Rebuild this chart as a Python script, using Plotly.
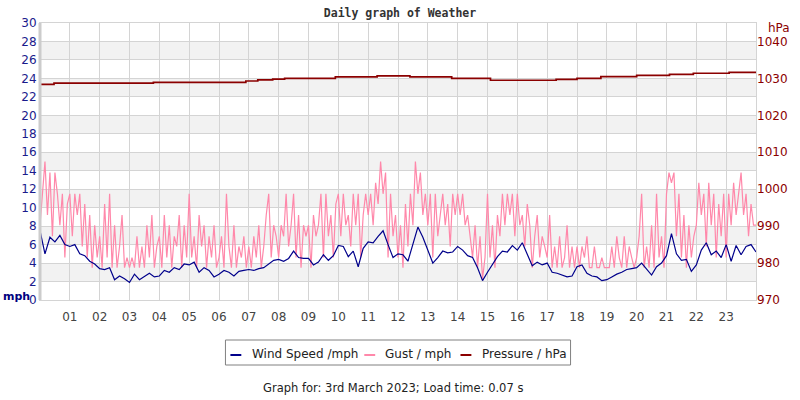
import plotly.graph_objects as go

# ---------------- data ----------------
hours = list(range(1, 24))
hour_labels = ["%02d" % h for h in hours]

# wind speed (mph), 10-minute samples from 00:00 to 24:00
wind_speed = [
    7.5, 5.0, 6.8, 6.3, 7.0, 6.0,
    5.8, 6.0, 5.0, 4.8, 4.2, 3.9,
    3.4, 3.3, 3.5, 2.2, 2.6, 2.3,
    1.9, 2.8, 2.2, 2.6, 2.9, 2.5,
    2.6, 3.2, 3.0, 3.5, 3.3, 3.9,
    3.8, 4.1, 3.0, 3.5, 3.2, 2.5,
    2.8, 3.2, 3.0, 2.6, 3.1, 3.2,
    3.3, 3.2, 3.4, 3.5, 3.9, 4.3,
    4.4, 4.2, 4.5, 5.3, 4.6, 4.5,
    4.5, 3.8, 4.1, 4.9, 4.3, 4.8,
    5.9, 5.8, 4.7, 5.3, 3.6, 5.6,
    6.3, 6.2, 6.9, 7.5, 6.0, 4.6,
    5.0, 4.9, 4.2, 6.2, 7.9, 6.8,
    5.5, 4.0, 4.6, 5.3, 5.1, 5.2,
    5.8, 5.4, 4.8, 4.6, 3.5, 2.1,
    3.0, 3.8, 4.7, 5.3, 5.2, 5.9,
    5.4, 6.2, 4.9, 3.7, 4.1, 3.8,
    4.0, 3.0, 2.9, 2.7, 2.5, 2.6,
    3.6, 3.8, 2.9, 2.6, 2.5, 2.1,
    2.2, 2.5, 2.8, 3.0, 3.3, 3.4,
    3.5, 4.0, 3.4, 2.7, 3.6, 4.0,
    4.8, 7.2, 5.0, 4.3, 4.4, 3.1,
    3.8, 5.4, 6.2, 4.9, 5.3, 4.6,
    6.0, 4.2, 5.9, 4.9, 5.8, 6.0,
    5.2,
]

# gust (mph), 5-minute samples from 00:00 to 24:00
gust = [
    8.1, 11.5, 15.0, 9.2, 13.8, 6.9, 13.8, 11.5, 8.1, 11.5, 4.6, 10.4,
    11.5, 6.9, 11.5, 9.2, 11.5, 5.8, 10.4, 4.6, 9.2, 3.5, 8.1, 4.6,
    6.9, 3.5, 10.4, 4.6, 11.5, 3.5, 8.1, 3.5, 5.8, 9.2, 3.5, 4.6,
    3.5, 4.6, 3.5, 6.9, 3.5, 5.8, 3.5, 8.1, 4.6, 9.2, 3.5, 5.8,
    6.9, 3.5, 9.2, 4.6, 8.1, 3.5, 6.9, 5.8, 9.2, 3.5, 8.1, 4.6,
    11.5, 4.6, 6.9, 3.5, 9.2, 5.8, 8.1, 3.5, 6.9, 4.6, 8.1, 3.5,
    4.6, 6.9, 3.5, 11.5, 5.8, 3.5, 8.1, 3.5, 5.8, 4.6, 6.9, 3.5,
    5.8, 3.5, 6.9, 4.6, 8.1, 3.5, 5.8, 9.2, 11.5, 4.6, 8.1, 6.9,
    4.6, 8.1, 6.9, 11.5, 5.8, 8.1, 11.5, 4.6, 9.2, 3.5, 8.1, 6.9,
    8.1, 3.5, 9.2, 6.9, 8.1, 11.5, 4.6, 11.5, 6.9, 9.2, 4.6, 10.4,
    11.5, 6.9, 11.5, 8.1, 9.2, 5.8, 11.5, 8.1, 11.5, 4.6, 9.2, 11.5,
    9.2, 11.5, 8.1, 12.7, 10.4, 15.0, 11.5, 13.8, 4.6, 11.5, 6.9, 9.2,
    4.6, 8.1, 3.5, 10.4, 5.8, 11.5, 8.1, 15.0, 11.5, 13.8, 9.2, 11.5,
    8.1, 11.5, 4.6, 11.5, 6.9, 9.2, 11.5, 8.1, 10.4, 5.8, 11.5, 9.2,
    11.5, 9.2, 11.5, 8.1, 9.2, 6.9, 4.6, 8.1, 3.5, 6.9, 2.3, 4.6,
    11.5, 4.6, 8.1, 3.5, 9.2, 6.9, 11.5, 8.1, 11.5, 9.2, 11.5, 6.9,
    11.5, 8.1, 9.2, 5.8, 10.4, 8.1, 3.5, 6.9, 9.2, 4.6, 6.9, 5.8,
    4.6, 9.2, 3.5, 5.8, 3.5, 6.9, 3.5, 4.6, 8.1, 3.5, 5.8, 3.5,
    5.8, 3.5, 5.8, 4.6, 6.9, 3.5, 3.5, 5.8, 3.5, 3.5, 4.6, 3.5,
    3.5, 3.5, 5.8, 3.5, 6.9, 4.6, 3.5, 6.9, 3.5, 5.8, 4.6, 3.5,
    4.6, 6.9, 11.5, 3.5, 5.8, 3.5, 8.1, 3.5, 11.5, 4.6, 6.9, 3.5,
    11.5, 13.8, 12.7, 13.8, 6.9, 11.5, 4.6, 9.2, 3.5, 8.1, 4.6, 6.9,
    8.1, 12.7, 9.2, 11.5, 5.8, 12.7, 8.1, 11.5, 4.6, 10.4, 6.9, 11.5,
    4.6, 11.5, 8.1, 12.7, 9.2, 11.5, 13.8, 9.2, 11.5, 6.9, 10.4, 8.1,
    8.1,
]

# pressure (hPa), change points (hour, value)
pressure_hours = [0.0, 0.47, 3.8, 6.9, 7.3, 7.8, 8.2, 9.9, 11.3, 12.4, 13.8,
                  15.1, 17.3, 18.0, 18.8, 20.0, 21.1, 21.9, 23.1, 24.0]
pressure = [1028.4, 1028.7, 1028.95, 1029.3, 1029.6, 1029.8, 1030.0, 1030.4,
            1030.7, 1030.4, 1030.0, 1029.5, 1029.75, 1030.0, 1030.5, 1030.8,
            1031.1, 1031.4, 1031.65, 1031.65]

series_names = ["Wind Speed /mph", "Gust / mph", "Pressure / hPa"]

wind_t = [i / 6 for i in range(len(wind_speed))]
gust_t = [i / 12 for i in range(len(gust))]

FONT = "DejaVu Sans"
NAVY = "#00008b"
PINK = "#ff88aa"
DRED = "#8b0000"
GRID = "#d4d4d4"
series_colors = [NAVY, PINK, DRED]

fig = go.Figure()
fig.add_trace(go.Scatter(x=gust_t, y=gust, mode="lines", name=series_names[1],
                         line=dict(color=PINK, width=1.2)))
fig.add_trace(go.Scatter(x=wind_t, y=wind_speed, mode="lines", name=series_names[0],
                         line=dict(color=NAVY, width=1.2)))
fig.add_trace(go.Scatter(x=pressure_hours, y=pressure, mode="lines", name=series_names[2],
                         yaxis="y2", line=dict(color=DRED, width=1.7, shape="hv")))

shapes = []
for lo in range(2, 30, 4):
    shapes.append(dict(type="rect", xref="paper", yref="y", x0=0, x1=1, y0=lo, y1=lo + 2,
                       fillcolor="#f2f2f2", line=dict(width=0), layer="below"))
shapes.append(dict(type="line", xref="paper", yref="paper", x0=0, x1=0, y0=0, y1=1,
                   line=dict(color="#cccccc", width=3)))

# custom legend box (paper coords: plot spans px 40..762 horizontally, 23..300 vertically)
def px_x(px):
    return (px - 40) / 722.0

def px_y(py):
    return (300 - py) / 277.0

shapes.append(dict(type="rect", xref="paper", yref="paper",
                   x0=px_x(227), x1=px_x(575), y0=px_y(340), y1=px_y(365),
                   line=dict(color="#808080", width=1), fillcolor="white"))
legend_dash_px = [(232, 243), (367, 378), (464, 475)]
legend_text_px = [252, 386, 484]
annotations = []
for (a, b), tx, name, col in zip(legend_dash_px, legend_text_px, series_names, series_colors):
    shapes.append(dict(type="line", xref="paper", yref="paper", x0=px_x(a), x1=px_x(b),
                       y0=px_y(355), y1=px_y(355), line=dict(color=col, width=2)))
    annotations.append(dict(text=name, xref="paper", yref="paper", x=px_x(tx), y=px_y(354),
                            xanchor="left", yanchor="middle", showarrow=False,
                            font=dict(color="#222", size=12, family=FONT)))

annotations += [
    dict(text="<b>mph</b>", xref="paper", yref="paper", x=px_x(1), y=px_y(296), xanchor="left",
         yanchor="middle", showarrow=False, font=dict(color="#000080", size=11, family=FONT)),
    dict(text="hPa", xref="paper", yref="paper", x=px_x(772), y=px_y(28), xanchor="left",
         yanchor="middle", showarrow=False, font=dict(color=DRED, size=12, family=FONT)),
    dict(text="Graph for: 3rd March 2023; Load time: 0.07 s", xref="paper", yref="paper",
         x=px_x(396), y=px_y(388), xanchor="center", yanchor="middle", showarrow=False,
         font=dict(color="#222", size=11.5, family=FONT)),
]

fig.update_layout(
    width=800, height=400,
    margin=dict(l=40, r=38, t=23, b=100),
    paper_bgcolor="white", plot_bgcolor="white",
    font=dict(family=FONT, size=11, color="#333"),
    title=dict(text="<b>Daily graph of Weather</b>", x=0.5, xanchor="center", y=0.967, yanchor="middle",
               font=dict(family="DejaVu Sans Mono", size=11.5, color="#333")),
    showlegend=False,
    xaxis=dict(range=[0, 24], tickvals=hours, ticktext=hour_labels, showgrid=True,
               gridcolor=GRID, gridwidth=1, zeroline=False, showline=True, linecolor=GRID,
               mirror=True, ticks="", ticklabelstandoff=6,
               tickfont=dict(color="#444", size=12, family=FONT)),
    yaxis=dict(range=[0, 30], dtick=2, tick0=0, showgrid=True, gridcolor=GRID,
               zeroline=False, showline=True, linecolor=GRID, mirror=True, ticks="",
               tickfont=dict(color="#1a1a8c", size=12, family=FONT)),
    yaxis2=dict(range=[970, 1045], tickvals=[970, 980, 990, 1000, 1010, 1020, 1030, 1040],
                overlaying="y", side="right", showgrid=False, zeroline=False, ticks="",
                tickfont=dict(color=DRED, size=12, family=FONT)),
    shapes=shapes,
    annotations=annotations,
)

fig.write_html("out.html")
